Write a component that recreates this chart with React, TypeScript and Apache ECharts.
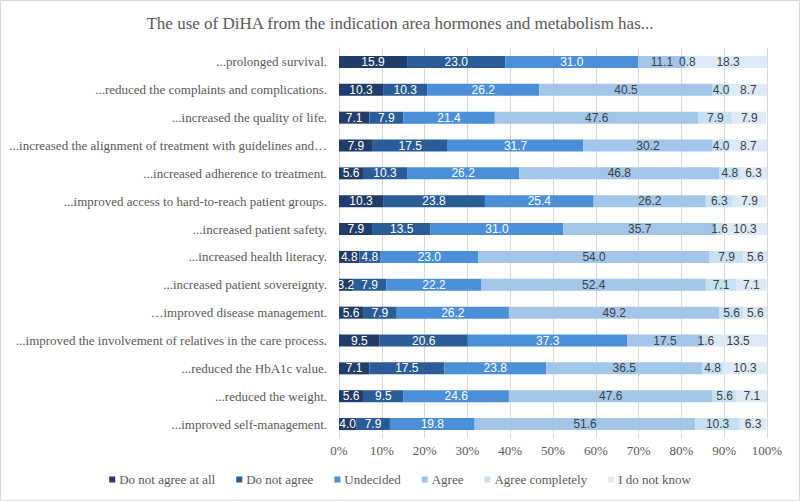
import React, { useEffect, useRef } from "react";
import * as echarts from "echarts";

const categories = [
  "...prolonged survival.",
  "...reduced the complaints and complications.",
  "...increased the quality of life.",
  "...increased the alignment of treatment with guidelines and…",
  "...increased adherence to treatment.",
  "...improved access to hard-to-reach patient groups.",
  "...increased patient safety.",
  "...increased health literacy.",
  "...increased patient sovereignty.",
  "…improved disease management.",
  "...improved the involvement of relatives in the care process.",
  "...reduced the HbA1c value.",
  "...reduced the weight.",
  "...improved self-management.",
];

const seriesNames = [
  "Do not agree at all",
  "Do not agree",
  "Undecided",
  "Agree",
  "Agree completely",
  "I do not know",
];

const doNotAgreeAtAll = [15.9, 10.3, 7.1, 7.9, 5.6, 10.3, 7.9, 4.8, 3.2, 5.6, 9.5, 7.1, 5.6, 4.0];
const doNotAgree = [23.0, 10.3, 7.9, 17.5, 10.3, 23.8, 13.5, 4.8, 7.9, 7.9, 20.6, 17.5, 9.5, 7.9];
const undecided = [31.0, 26.2, 21.4, 31.7, 26.2, 25.4, 31.0, 23.0, 22.2, 26.2, 37.3, 23.8, 24.6, 19.8];
const agree = [11.1, 40.5, 47.6, 30.2, 46.8, 26.2, 35.7, 54.0, 52.4, 49.2, 17.5, 36.5, 47.6, 51.6];
const agreeCompletely = [0.8, 4.0, 7.9, 4.0, 4.8, 6.3, 1.6, 7.9, 7.1, 5.6, 1.6, 4.8, 5.6, 10.3];
const doNotKnow = [18.3, 8.7, 7.9, 8.7, 6.3, 7.9, 10.3, 5.6, 7.1, 5.6, 13.5, 10.3, 7.1, 6.3];

const xTicks = [0, 10, 20, 30, 40, 50, 60, 70, 80, 90, 100];

const colors = ["#1f3d68", "#2a5d98", "#4a8fd8", "#a2c6ea", "#c6e1f4", "#dce9f7"];
const labelColors = ["#ffffff", "#ffffff", "#ffffff", "#404040", "#404040", "#404040"];

export default function App() {
  const ref = useRef<HTMLDivElement>(null);
  useEffect(() => {
    document.body.style.margin = "0";
    if (!ref.current) return;
    const chart = echarts.init(ref.current, null, { renderer: "svg" });
    const allData = [doNotAgreeAtAll, doNotAgree, undecided, agree, agreeCompletely, doNotKnow];
    const serif = "'Liberation Serif', 'Times New Roman', serif";
    chart.setOption({
      animation: false,
      backgroundColor: "#ffffff",
      title: {
        text: "The use of DiHA from the indication area hormones and metabolism has...",
        left: "center",
        top: 10,
        textStyle: { fontFamily: serif, fontSize: 17, fontWeight: "normal", color: "#595959" },
      },
      graphic: [
        {
          type: "rect",
          shape: { x: 0.5, y: 0.5, width: 799, height: 500 },
          style: { fill: "none", stroke: "#d9d9d9", lineWidth: 1 },
          silent: true,
        },
      ],
      legend: {
        data: seriesNames,
        top: 468,
        left: "center",
        icon: "rect",
        itemWidth: 6,
        itemHeight: 6,
        itemGap: 21,
        textStyle: { fontFamily: serif, fontSize: 13, color: "#595959", padding: [0, 0, 0, -1] },
      },
      grid: { left: 339, right: 33, top: 48, bottom: 63 },
      xAxis: {
        type: "value",
        min: xTicks[0],
        max: xTicks[xTicks.length - 1],
        interval: 10,
        axisLabel: {
          formatter: "{value}%",
          fontFamily: serif,
          fontSize: 13,
          color: "#595959",
          margin: 6,
        },
        axisLine: { show: false },
        axisTick: { show: false },
        splitLine: { show: true, lineStyle: { color: "#d9d9d9", width: 1 } },
      },
      yAxis: {
        type: "category",
        data: categories,
        inverse: true,
        axisLabel: { fontFamily: serif, fontSize: 13, color: "#595959", margin: 12 },
        axisLine: { show: true, lineStyle: { color: "#d9d9d9" } },
        axisTick: { show: false },
      },
      series: seriesNames.map((name, i) => ({
        name,
        type: "bar",
        stack: "total",
        barWidth: 12,
        data: allData[i],
        itemStyle: { color: colors[i] },
        label: {
          show: true,
          position: "inside",
          formatter: (p: any) => Number(p.value).toFixed(1),
          fontFamily: "'Liberation Sans', Arial, sans-serif",
          fontSize: 12,
          color: labelColors[i],
        },
      })),
    });
    return () => chart.dispose();
  }, []);
  return <div ref={ref} style={{ width: 800, height: 501 }} />;
}
